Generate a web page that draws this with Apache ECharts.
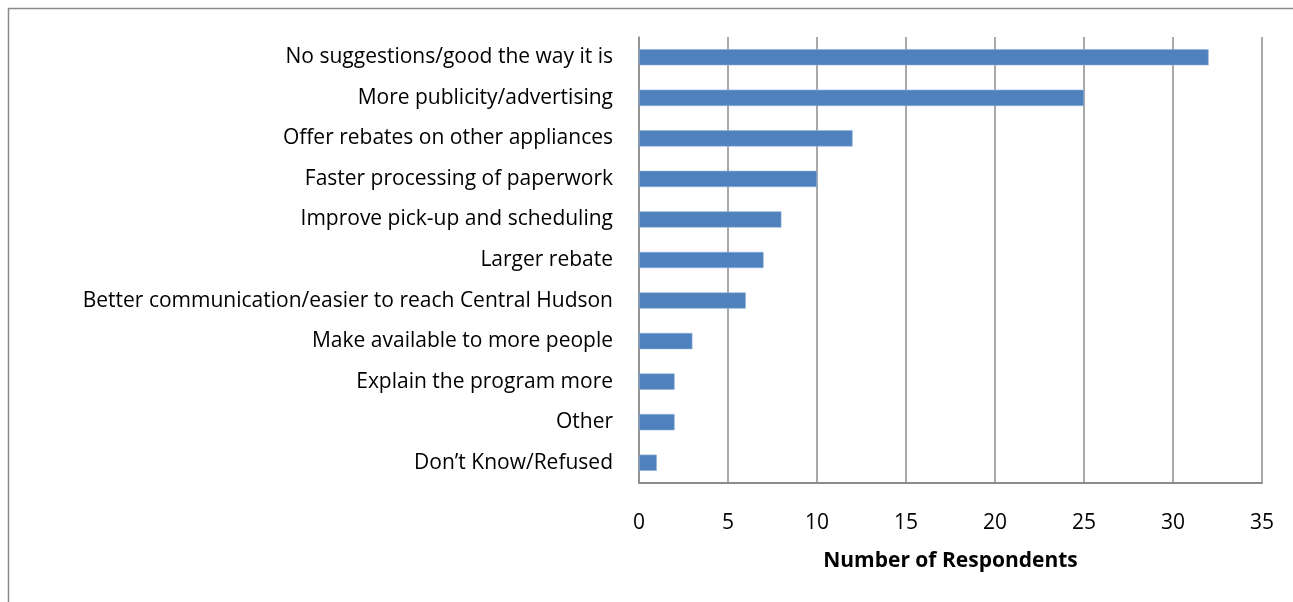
<!DOCTYPE html>
<html>
<head>
<meta charset="utf-8">
<script src="https://cdn.jsdelivr.net/npm/echarts@6/dist/echarts.min.js"></script>
<style>
  html, body { margin: 0; padding: 0; background: #fff; }
  #chart { width: 1293px; height: 602px; }
</style>
</head>
<body>
<div id="chart"></div>
<script>
// Suggestions for improving the program, listed top to bottom
const categories = [
  'No suggestions/good the way it is',
  'More publicity/advertising',
  'Offer rebates on other appliances',
  'Faster processing of paperwork',
  'Improve pick-up and scheduling',
  'Larger rebate',
  'Better communication/easier to reach Central Hudson',
  'Make available to more people',
  'Explain the program more',
  'Other',
  'Don\u2019t Know/Refused'
];
const respondents = [32, 25, 12, 10, 8, 7, 6, 3, 2, 2, 1];
const xTicks = { min: 0, max: 35, interval: 5 };
const xAxisTitle = 'Number of Respondents';

const font = '"Open Sans", Lato, sans-serif';
const gridGray = '#8c8c8c';

const chart = echarts.init(document.getElementById('chart'), null, { renderer: 'canvas' });
chart.setOption({
  animation: false,
  backgroundColor: '#ffffff',
  graphic: [{
    type: 'rect',
    shape: { x: 8.5, y: 8.5, width: 1320, height: 620 },
    style: { fill: 'none', stroke: '#8a8a8a', lineWidth: 1.5 },
    silent: true
  }],
  grid: { left: 639, right: 31, top: 37, bottom: 119, containLabel: false },
  xAxis: {
    type: 'value',
    min: xTicks.min, max: xTicks.max, interval: xTicks.interval,
    name: xAxisTitle,
    nameLocation: 'middle',
    nameGap: 68,
    nameTextStyle: { fontFamily: font, fontWeight: 'bold', fontSize: 21, color: '#000' },
    axisLine: { show: true, lineStyle: { color: gridGray, width: 2 } },
    axisTick: { show: false },
    axisLabel: { fontFamily: font, fontSize: 21, color: '#000', margin: 30 },
    splitLine: { show: true, lineStyle: { color: gridGray, width: 1.5 } }
  },
  yAxis: {
    type: 'category',
    data: categories,
    inverse: true,
    axisLine: { show: true, lineStyle: { color: gridGray, width: 1.5 } },
    axisTick: { show: false },
    axisLabel: { fontFamily: font, fontSize: 21, color: '#000', margin: 26, padding: [4, 0, 0, 0] }
  },
  series: [{
    type: 'bar',
    data: respondents,
    barCategoryGap: '60%',
    itemStyle: { color: '#4f81bd', borderColor: '#8fb0d8', borderWidth: 0.6 }
  }]
});
</script>
</body>
</html>
